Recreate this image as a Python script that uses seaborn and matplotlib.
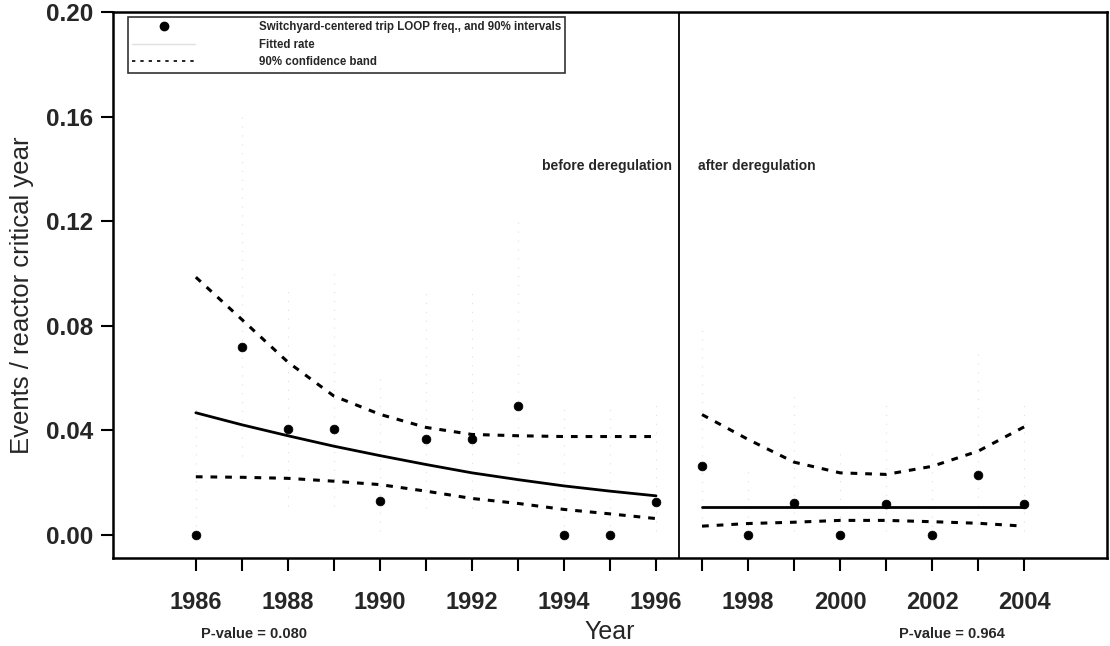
import numpy as np
import pandas as pd
import seaborn as sns
import matplotlib.pyplot as plt
from matplotlib.lines import Line2D

# LOOP frequencies per year, before / after deregulation
years_before = [1986, 1987, 1988, 1989, 1990, 1991, 1992, 1993, 1994, 1995, 1996]
freq_before = [0.0, 0.0717, 0.0402, 0.0402, 0.0130, 0.0364, 0.0364, 0.0491, 0.0, 0.0, 0.0125]
fit_before = [0.0466, 0.0420, 0.0378, 0.0338, 0.0302, 0.0268, 0.0236, 0.0210, 0.0186, 0.0166, 0.0148]
upper_before = [0.0985, 0.0823, 0.0660, 0.0530, 0.0460, 0.0410, 0.0383, 0.0378, 0.0375, 0.0375, 0.0375]
lower_before = [0.0221, 0.0219, 0.0215, 0.0204, 0.0191, 0.0166, 0.0138, 0.0119, 0.0096, 0.0079, 0.0061]
ci_lo_before = [0.0, 0.030, 0.011, 0.011, 0.0015, 0.010, 0.010, 0.017, 0.0, 0.0, 0.0015]
ci_hi_before = [0.048, 0.160, 0.095, 0.102, 0.060, 0.093, 0.093, 0.120, 0.050, 0.050, 0.050]

years_after = [1997, 1998, 1999, 2000, 2001, 2002, 2003, 2004]
freq_after = [0.0261, 0.0, 0.0119, 0.0, 0.0115, 0.0, 0.0226, 0.0115]
fit_after = [0.0106, 0.0106, 0.0106, 0.0106, 0.0106, 0.0106, 0.0106, 0.0106]
upper_after = [0.0459, 0.0364, 0.0277, 0.0236, 0.0230, 0.0261, 0.0319, 0.0412]
lower_after = [0.0032, 0.0042, 0.0047, 0.0054, 0.0054, 0.0049, 0.0043, 0.0032]
ci_lo_after = [0.003, 0.0, 0.0015, 0.0, 0.0015, 0.0, 0.004, 0.0015]
ci_hi_after = [0.080, 0.026, 0.053, 0.033, 0.051, 0.033, 0.069, 0.051]

yticks = [0.00, 0.04, 0.08, 0.12, 0.16, 0.20]
pvals = ["P-value = 0.080", "P-value = 0.964"]

before = pd.DataFrame({"year": years_before, "freq": freq_before, "fit": fit_before,
                       "upper": upper_before, "lower": lower_before,
                       "lo": ci_lo_before, "hi": ci_hi_before})
after = pd.DataFrame({"year": years_after, "freq": freq_after, "fit": fit_after,
                      "upper": upper_after, "lower": lower_after,
                      "lo": ci_lo_after, "hi": ci_hi_after})

sns.set_theme(style="ticks")
plt.rcParams['font.family'] = ['Liberation Sans', 'DejaVu Sans']

fig = plt.figure(figsize=(11.1, 6.46), dpi=100)
ax = fig.add_axes([0.1018, 0.1362, 0.8955, 0.8452])

dash = (0, (2.2, 2.6))
for df in [before, after]:
    # faint 90% intervals (mostly lost in the scan)
    ax.vlines(df.year, df.lo, df.hi, colors='0.88', linewidth=0.8, linestyles=(0, (1, 7)))
    sns.lineplot(x="year", y="fit", data=df, ax=ax, color='black', linewidth=2)
    sns.lineplot(x="year", y="upper", data=df, ax=ax, color='black', linewidth=2.2, linestyle=dash)
    sns.lineplot(x="year", y="lower", data=df, ax=ax, color='black', linewidth=2.2, linestyle=dash)
    sns.scatterplot(x="year", y="freq", data=df, ax=ax, color='black', s=40, edgecolor='black', zorder=5)

ax.axvline(1996.5, color='black', linewidth=1.3)

ax.set_xlim(1984.2, 2005.8)
ax.set_ylim(-0.009, 0.2)
all_years = years_before + years_after
ax.set_xticks(all_years)
ax.set_xticklabels([str(y) if y % 2 == 0 else '' for y in all_years], fontsize=17, fontweight='bold')
ax.set_yticks(yticks)
ax.set_yticklabels(['%.2f' % v for v in yticks], fontsize=17.5, fontweight='bold')
ax.tick_params(axis='both', direction='out', length=9, width=1.5, color='black')
ax.tick_params(axis='x', pad=15)
ax.tick_params(axis='y', pad=5)
for sp in ax.spines.values():
    sp.set_linewidth(1.8)
    sp.set_color('black')

ax.set_xlabel("Year", fontsize=18)
ax.xaxis.set_label_coords(0.5, -0.1355)
ax.xaxis.label.set_va('center')
ax.set_ylabel("Events / reactor critical year", fontsize=18.5)
ax.yaxis.set_label_coords(-0.0915, 0.4817)
ax.yaxis.label.set_va('center')

ax.text(1996.35, 0.141, "before deregulation", ha='right', va='center', fontsize=10, fontweight='bold')
ax.text(1996.92, 0.141, "after deregulation", ha='left', va='center', fontsize=10, fontweight='bold')

fig.text(254 / 1110, 1 - 634 / 646, pvals[0], ha='center', va='center', fontsize=10.5, fontweight='bold')
fig.text(952 / 1110, 1 - 634 / 646, pvals[1], ha='center', va='center', fontsize=10.5, fontweight='bold')

handles = [Line2D([], [], color='black', marker='o', markersize=6, linestyle='none'),
           Line2D([], [], color='0.88', linewidth=1),
           Line2D([], [], color='black', linewidth=1.2, linestyle=(0, (2, 3)))]
labels = ["Switchyard-centered trip LOOP freq., and 90% intervals", "Fitted rate", "90% confidence band"]
leg = ax.legend(handles, labels, loc='upper left', bbox_to_anchor=(0.015, 0.991), fontsize=8.3,
                frameon=True, fancybox=False, borderpad=0.35, labelspacing=0.5,
                handlelength=5.5, handletextpad=5.5, borderaxespad=0)
leg.get_frame().set_edgecolor('black')
leg.get_frame().set_linewidth(1.2)
for t in leg.get_texts():
    t.set_fontweight('bold')

plt.savefig('out.png', dpi=100)
